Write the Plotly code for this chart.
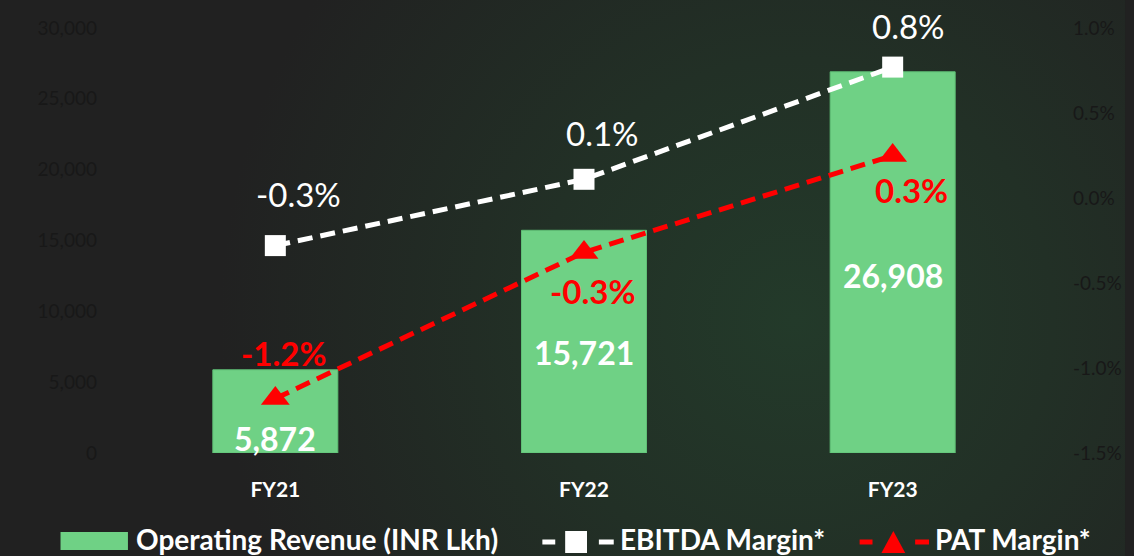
import base64
import plotly.graph_objects as go

# ---------------- data ----------------
categories = ["FY21", "FY22", "FY23"]
revenue = [5872, 15721, 26908]
revenue_labels = ["5,872", "15,721", "26,908"]
ebitda_margin = [-0.28, 0.11, 0.77]      # % (as plotted)
ebitda_labels = ["-0.3%", "0.1%", "0.8%"]
pat_margin = [-1.18, -0.32, 0.25]        # % (as plotted)
pat_labels = ["-1.2%", "-0.3%", "0.3%"]
left_ticks = [0, 5000, 10000, 15000, 20000, 25000, 30000]
right_ticks = [-1.5, -1.0, -0.5, 0.0, 0.5, 1.0]
right_tick_text = ["-1.5%", "-1.0%", "-0.5%", "0.0%", "0.5%", "1.0%"]

# ---------------- style ----------------
W, H = 1134, 556
ML, MR, MT, MB = 121, 79, 28, 103
PW, PH = W - ML - MR, H - MT - MB
FONT = "Lato"
BAR_COLOR = "#6fd185"
RED = "#ff0000"
AXIS_TXT = "#181818"

ebitda_shift = [(23, 52), (18, 46), (16, 41)]
pat_shift = [(8, 46), (8, -39), (19, -34)]
rev_shift = [-69, -122, -204]


def px(x):
    return (x - ML) / PW


def py(y):
    return (MT + PH - y) / PH


fig = go.Figure()

fig.add_trace(go.Bar(
    x=categories, y=revenue, name="Operating Revenue (INR Lkh)",
    marker=dict(color=BAR_COLOR, line=dict(color="#5fbf75", width=1)),
    width=0.405, showlegend=False, hoverinfo="skip",
))
fig.add_trace(go.Scatter(
    x=categories, y=ebitda_margin, yaxis="y2", name="EBITDA Margin*",
    mode="lines+markers",
    line=dict(color="white", width=5, dash="15px,8px"),
    marker=dict(symbol="square", size=21, color="white"),
    showlegend=False, hoverinfo="skip",
))
fig.add_trace(go.Scatter(
    x=categories, y=pat_margin, yaxis="y2", name="PAT Margin*",
    mode="lines+markers",
    line=dict(color=RED, width=5, dash="15px,8px"),
    marker=dict(symbol="triangle-up", size=25, color=RED),
    showlegend=False, hoverinfo="skip",
))

annotations = []
for c, v, t, (dx, dy) in zip(categories, ebitda_margin, ebitda_labels, ebitda_shift):
    annotations.append(dict(x=c, y=v, xref="x", yref="y2", text=t, showarrow=False,
                            xshift=dx, yshift=dy,
                            font=dict(family=FONT, size=33, color="white")))
for c, v, t, (dx, dy) in zip(categories, pat_margin, pat_labels, pat_shift):
    annotations.append(dict(x=c, y=v, xref="x", yref="y2", text=t, showarrow=False,
                            xshift=dx, yshift=dy,
                            font=dict(family=FONT, size=33, color=RED, weight="bold")))
for c, v, t, dy in zip(categories, revenue, revenue_labels, rev_shift):
    annotations.append(dict(x=c, y=v, xref="x", yref="y", text=t, showarrow=False,
                            yshift=dy,
                            font=dict(family=FONT, size=32, color="white", weight="bold")))

# ---------------- custom legend ----------------
legend_font = dict(family=FONT, size=28, color="white", weight="bold")
LY = 539
shapes = []
shapes.append(dict(type="rect", xref="paper", yref="paper",
                   x0=px(60), x1=px(128), y0=py(550), y1=py(532),
                   fillcolor=BAR_COLOR, line=dict(width=0)))
annotations.append(dict(x=px(134), y=py(LY), xref="paper", yref="paper",
                        xanchor="left", yanchor="middle", showarrow=False,
                        text="Operating Revenue (INR Lkh)", font=legend_font))
# EBITDA legend symbol
for a, b in [(546, 559), (603, 618)]:
    shapes.append(dict(type="line", xref="paper", yref="paper",
                       x0=px(a), x1=px(b), y0=py(542), y1=py(542),
                       line=dict(color="white", width=5)))
shapes.append(dict(type="rect", xref="paper", yref="paper",
                   x0=px(569), x1=px(591), y0=py(553), y1=py(531),
                   fillcolor="white", line=dict(width=0)))
annotations.append(dict(x=px(622), y=py(LY), xref="paper", yref="paper",
                        xanchor="left", yanchor="middle", showarrow=False,
                        text="EBITDA Margin*", font=legend_font))
# PAT legend symbol
for a, b in [(866, 879), (922, 936)]:
    shapes.append(dict(type="line", xref="paper", yref="paper",
                       x0=px(a), x1=px(b), y0=py(542), y1=py(542),
                       line=dict(color=RED, width=5)))
tri = "M {:.5f},{:.5f} L {:.5f},{:.5f} L {:.5f},{:.5f} Z".format(
    px(888), py(553), px(912), py(553), px(900), py(531))
shapes.append(dict(type="path", xref="paper", yref="paper", path=tri,
                   fillcolor=RED, line=dict(width=0)))
annotations.append(dict(x=px(940), y=py(LY), xref="paper", yref="paper",
                        xanchor="left", yanchor="middle", showarrow=False,
                        text="PAT Margin*", font=legend_font))

# ---------------- background gradient ----------------
svg = f"""<svg xmlns='http://www.w3.org/2000/svg' width='{W}' height='{H}' viewBox='0 0 {W} {H}'>
<defs>
<radialGradient id='g' cx='800' cy='320' r='580' gradientUnits='userSpaceOnUse'>
<stop offset='0' stop-color='#233a2a'/>
<stop offset='0.45' stop-color='#223026'/>
<stop offset='1' stop-color='#212121'/>
</radialGradient>
</defs>
<rect width='{W}' height='{H}' fill='#212121'/>
<rect width='{W}' height='{H}' fill='url(#g)'/>
</svg>"""
src = "data:image/svg+xml;base64," + base64.b64encode(svg.encode()).decode()

fig.update_layout(
    width=W, height=H, autosize=False,
    margin=dict(l=ML, r=MR, t=MT, b=MB),
    paper_bgcolor="#212121", plot_bgcolor="rgba(0,0,0,0)",
    showlegend=False,
    bargap=0.6,
    xaxis=dict(type="category", range=[-0.5, 2.5], showgrid=False, zeroline=False,
               showline=False, ticks="", ticklabelstandoff=22,
               tickfont=dict(family=FONT, size=21, color="white", weight="bold")),
    yaxis=dict(range=[0, 30000], tickvals=left_ticks, tickformat=",",
               showgrid=False, zeroline=False, showline=False, ticks="",
               ticklabelstandoff=23,
               tickfont=dict(family=FONT, size=19, color=AXIS_TXT)),
    yaxis2=dict(range=[-1.5, 1.0], overlaying="y", side="right",
                tickvals=right_ticks, ticktext=right_tick_text,
                showgrid=False, zeroline=False, showline=False, ticks="",
                ticklabelstandoff=25,
                tickfont=dict(family=FONT, size=19, color=AXIS_TXT)),
    annotations=annotations,
    shapes=shapes,
    images=[dict(source=src, xref="paper", yref="paper",
                 x=-ML / PW, y=1 + MT / PH, sizex=W / PW, sizey=H / PH,
                 xanchor="left", yanchor="top", sizing="stretch", layer="below")],
)

fig.write_html(
    "out.html",
    config={"displayModeBar": False},
    post_script="document.body.style.margin='0';document.body.style.padding='0';"
                "document.body.style.overflow='hidden';",
)
